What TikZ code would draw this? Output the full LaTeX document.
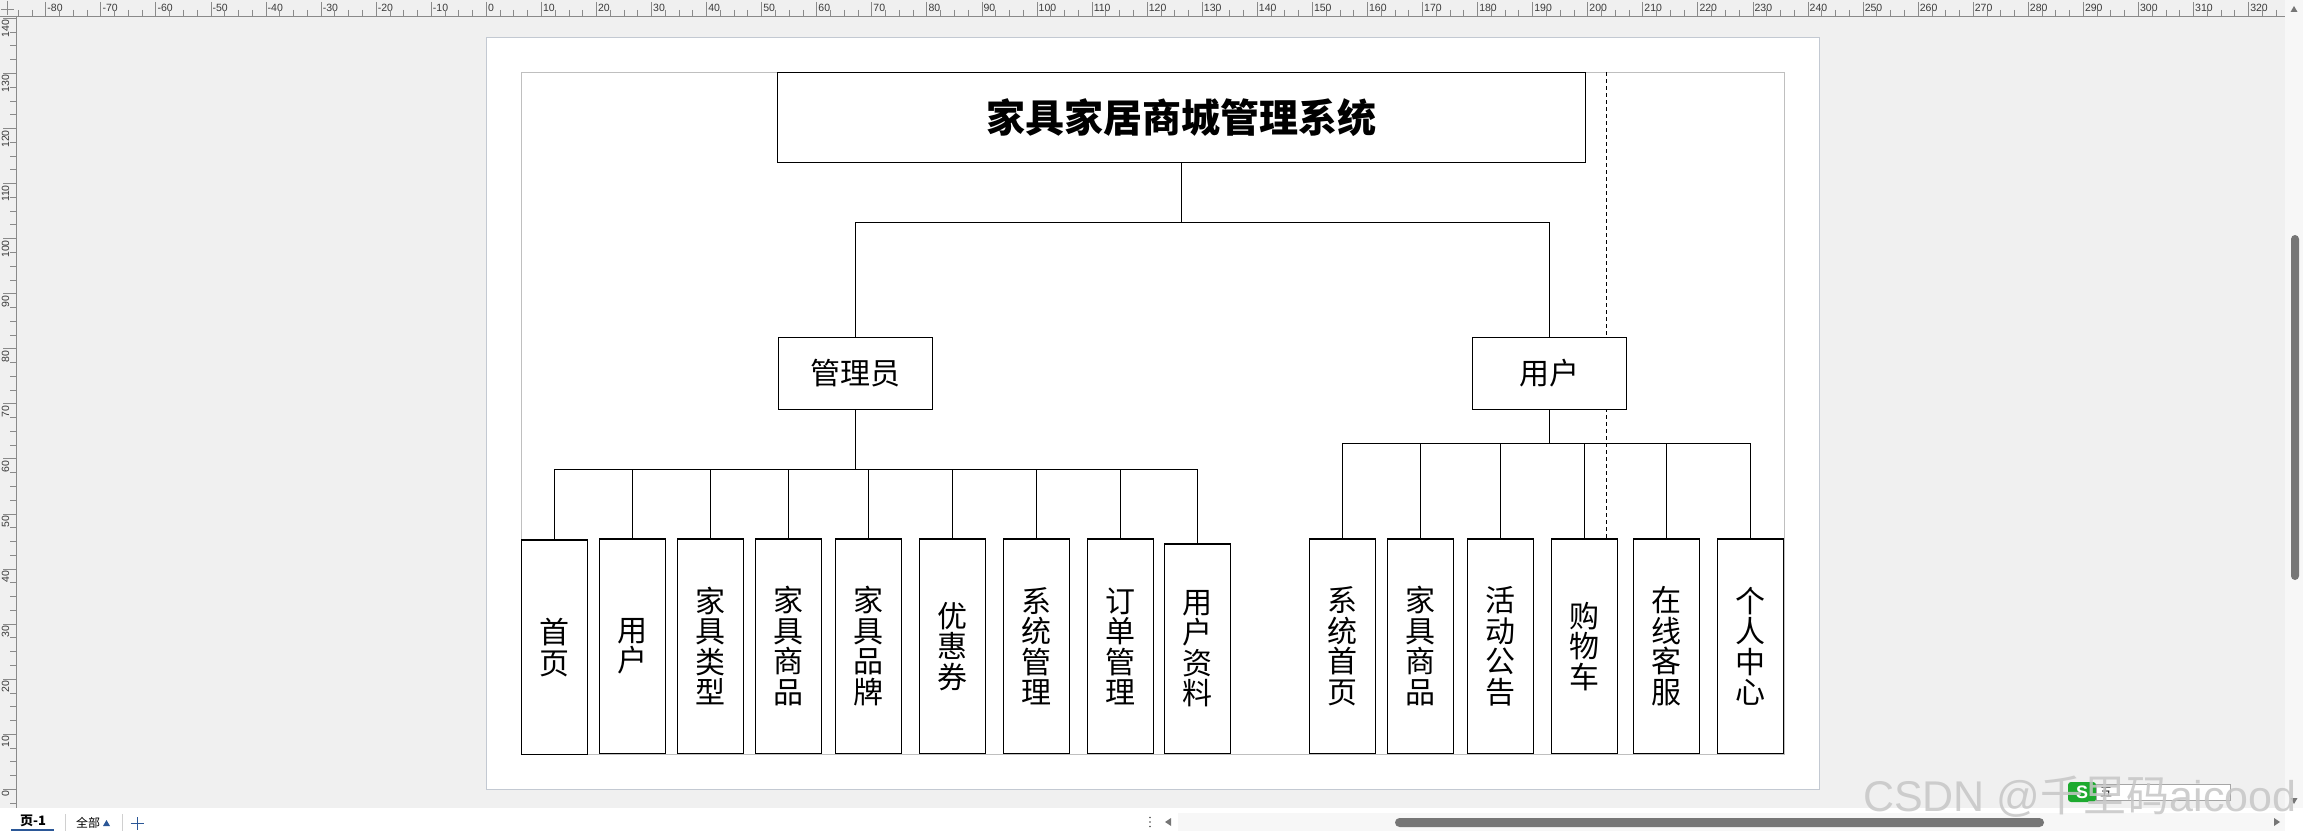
\documentclass[tikz,border=0pt]{standalone}
\usepackage{fontspec}
\setmainfont{Liberation Sans}
\newfontfamily\cjk{Noto Sans CJK SC}
\newfontfamily\rulerfont{Liberation Sans}
\definecolor{canvas}{HTML}{F0F0F0}
\definecolor{pageedge}{HTML}{C3C9D2}
\definecolor{framegray}{HTML}{BFBFBF}
\definecolor{rulergray}{HTML}{8A8A8A}
\definecolor{rulertext}{HTML}{3A3A3A}
\definecolor{scrollbg}{HTML}{F7F7F7}
\definecolor{thumb}{HTML}{767676}
\definecolor{tabblue}{HTML}{2B5797}
\definecolor{sepgray}{HTML}{D0D0D0}
\definecolor{wmgray}{HTML}{C6C6C6}
\definecolor{imegreen}{HTML}{1DAA2F}
\begin{document}
\begin{tikzpicture}[x=1pt,y=-1pt,
  box/.style={draw=black,line width=1.4pt,fill=white,inner sep=0pt,align=center},
  leaf/.style={box,minimum width=66pt,minimum height=214.3pt,font=\cjk\fontsize{30}{30.5}\selectfont},
  mid/.style={box,minimum width=154.4pt,minimum height=72pt,font=\cjk\fontsize{30}{32}\selectfont},
  conn/.style={line width=1.3pt,draw=black},
  guide/.style={line width=1pt,draw=black,dash pattern=on 4pt off 3pt},
  tick/.style={draw=rulergray,line width=0.8pt},
  rlabel/.style={font=\rulerfont\fontsize{10.5}{10.5}\selectfont,text=rulertext,inner sep=0pt}
]
\useasboundingbox (0,0) rectangle (2303,837);
% ---------- editor background ----------
\fill[canvas] (0,0) rectangle (2303,808);
\fill[white] (0,808) rectangle (2303,837);
% page and margin frame
\filldraw[fill=white,draw=pageedge,line width=1pt] (486.3,38) rectangle (1819.3,789.3);
\draw[framegray,line width=1.3pt] (521.3,72.3) rectangle (1784.5,754.3);
% ---------- rulers ----------
\draw[tick] (0,16) -- (2285,16);
\draw[tick] (16,16) -- (16,808);
\draw[tick] (7.5,1) -- (7.5,15);
\draw[tick] (1,9.5) -- (14,9.5);
\foreach \k [count=\i] in {-9,...,32}{
  \pgfmathsetmacro\xx{486.3+\k*55.07}
  \pgfmathtruncatemacro\lab{\k*10}
  \ifdim\xx pt>16pt
    \draw[tick] (\xx,2) -- (\xx,16);
    \node[rlabel,anchor=west] (tx\i) at (\xx+1.5,8) {\lab};
  \fi
  \foreach \m in {1,2,3}{
    \pgfmathsetmacro\mx{\xx+\m*13.77}
    \ifdim\mx pt>16pt \ifdim\mx pt<2285pt
      \draw[tick] (\mx,10) -- (\mx,16);
    \fi\fi
  }
}
\foreach \k [count=\i] in {-1,...,14}{
  \pgfmathsetmacro\yy{789.3-\k*55.07}
  \pgfmathtruncatemacro\lab{\k*10}
  \ifnum\k>-1
    \draw[tick] (3,\yy) -- (16,\yy);
    \node[rlabel,rotate=90,anchor=east] (ty\i) at (5.5,\yy+1.5) {\lab};
  \fi
  \foreach \m in {1,2,3}{
    \pgfmathsetmacro\my{\yy-\m*13.77}
    \ifdim\my pt>16pt \ifdim\my pt<808pt
      \draw[tick] (10,\my) -- (16,\my);
    \fi\fi
  }
}
% ---------- scrollbars ----------
\fill[scrollbg] (2285,0) rectangle (2303,808);
\fill[thumb,rounded corners=4pt] (2291,235) rectangle (2299,580);
\fill[thumb] (2290.5,12) -- (2297.5,12) -- (2294,6) -- cycle;
\fill[thumb] (2290.5,798) -- (2297.5,798) -- (2294,804) -- cycle;
\fill[scrollbg] (1178,813) rectangle (2285,831);
\fill[thumb,rounded corners=4.5pt] (1395,818) rectangle (2044,827);
\fill[thumb] (1171,818) -- (1171,826) -- (1165,822) -- cycle;
\fill[thumb] (2274,818) -- (2274,826) -- (2280,822) -- cycle;
\foreach \d in {817.5,822,826.5} \fill[black!70] (1150,\d) circle (0.9);
% ---------- page tabs ----------
\node[font=\cjk\bfseries\fontsize{13}{13}\selectfont,inner sep=0pt] (tab1) at (33,821) {页-1};
\draw[tabblue,line width=1.6pt] (11,830) -- (54,830);
\draw[sepgray] (65,814) -- (65,831);
\draw[sepgray] (122,814) -- (122,831);
\node[font=\cjk\fontsize{12}{12}\selectfont,inner sep=0pt] (tab2) at (88,823) {全部};
\fill[tabblue] (103,826) -- (110,826) -- (106.5,820) -- cycle;
\draw[tabblue,line width=0.9pt] (137,817) -- (137,830);
\draw[tabblue,line width=0.9pt] (130.5,823.5) -- (143.5,823.5);
% ---------- diagram ----------
\coordinate (dtop) at (1606.5,72.3);
\coordinate (dbot) at (1606.5,539);
\draw[guide] (dtop) -- (dbot);

\node[box,minimum width=808.3pt,minimum height=90pt,font=\cjk\bfseries\fontsize{39}{41}\selectfont] (title) at (1181.5,117.3) {家具家居商城管理系统};
\node[mid] (admin) at (855.5,373.3) {管理员};
\node[mid] (user) at (1549.5,373.3) {用户};

\coordinate (j0) at (1181.5,222.3);
\coordinate (abus) at (855.5,469.3);
\coordinate (ubus) at (1549.5,443.3);

\node[leaf,minimum height=214.7pt] (a1) at (554.3,647.35) {首\\页};
\node[leaf] (a2) at (632.4,646.2) {用\\户};
\node[leaf] (a3) at (710.5,646.2) {家\\具\\类\\型};
\node[leaf] (a4) at (788.5,646.2) {家\\具\\商\\品};
\node[leaf] (a5) at (868.6,646.2) {家\\具\\品\\牌};
\node[leaf] (a6) at (952.5,646.2) {优\\惠\\券};
\node[leaf] (a7) at (1036.5,646.2) {系\\统\\管\\理};
\node[leaf] (a8) at (1120.6,646.2) {订\\单\\管\\理};
\node[leaf,minimum height=209.3pt] (a9) at (1197.5,648.65) {用\\户\\资\\料};

\node[leaf] (u1) at (1342.5,646.2) {系\\统\\首\\页};
\node[leaf] (u2) at (1420.5,646.2) {家\\具\\商\\品};
\node[leaf] (u3) at (1500.5,646.2) {活\\动\\公\\告};
\node[leaf] (u4) at (1584.5,646.2) {购\\物\\车};
\node[leaf] (u5) at (1666.5,646.2) {在\\线\\客\\服};
\node[leaf] (u6) at (1750.5,646.2) {个\\人\\中\\心};

\draw[conn] (title.south) -- (j0);
\draw[conn] (admin.north) |- (j0) -| (user.north);
\draw[conn] (admin.south) -- (abus);
\foreach \n in {a1,a2,a3,a4,a5,a6,a7,a8,a9} \draw[conn] (abus) -| (\n.north);
\draw[conn] (user.south) -- (ubus);
\foreach \n in {u1,u2,u3,u4,u5,u6} \draw[conn] (ubus) -| (\n.north);
% ---------- input-method bar and watermark ----------
\fill[imegreen,rounded corners=3pt] (2068,782) rectangle (2096,802);
\node[font=\bfseries\fontsize{18}{18}\selectfont,text=white,inner sep=0pt] (imes) at (2082,792) {S};
\filldraw[fill=white,draw=black!35,line width=0.7pt] (2096,784) rectangle (2230,800);
\node[font=\cjk\fontsize{12}{12}\selectfont,inner sep=0pt] (ime5) at (2106,792) {五};
\node[anchor=west,inner sep=0pt,text=wmgray,opacity=0.85] (wm) at (1863,797)
  {\fontsize{43}{43}\selectfont CSDN @{\cjk 千里码}aicood};
\end{tikzpicture}
\end{document}
